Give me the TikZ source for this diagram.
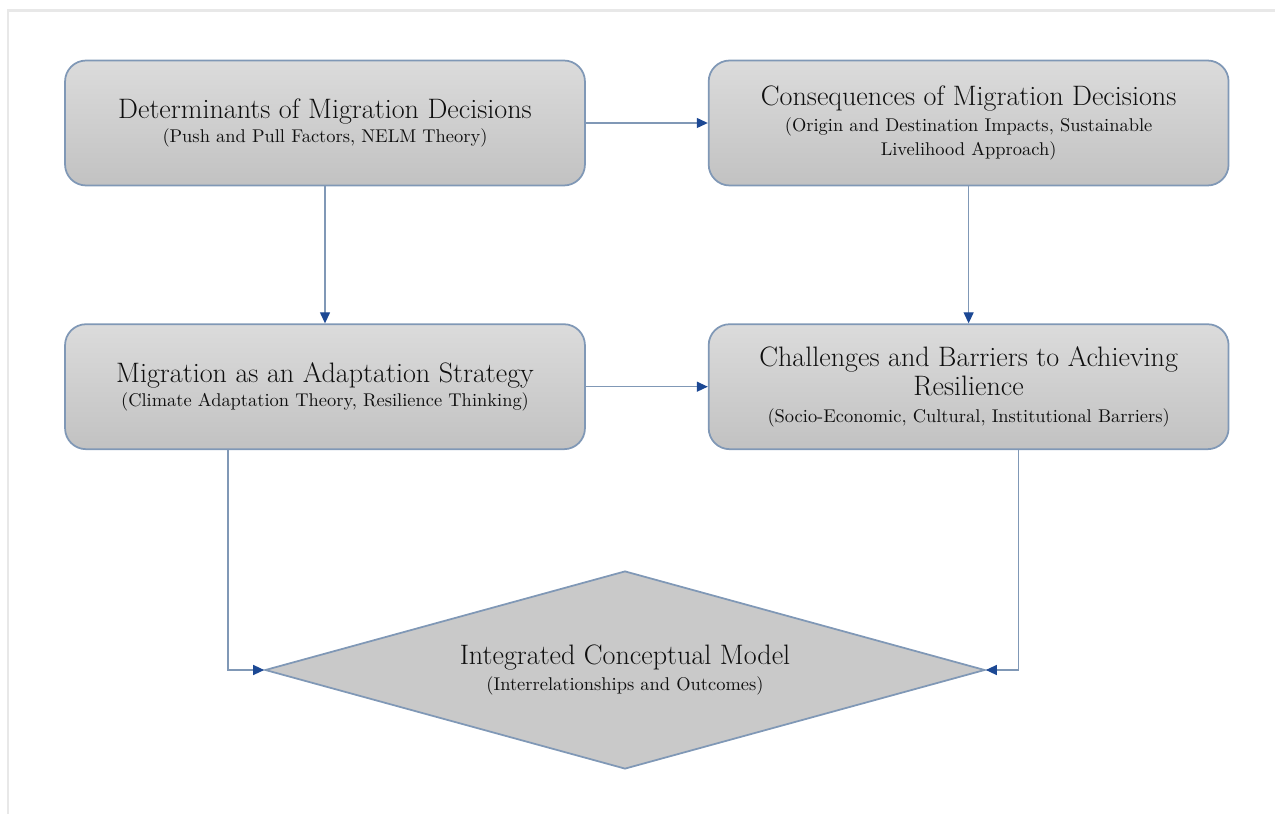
\documentclass[tikz,border=0pt]{standalone}
\usepackage{fontspec}
\usepackage{tikz}
\usetikzlibrary{positioning, shapes.geometric, arrows.meta}
\usepackage{xcolor}
\definecolor{edgeblue}{RGB}{128,152,182}
\definecolor{tipblue}{RGB}{28,72,148}
\definecolor{framegray}{RGB}{232,232,232}
\definecolor{inkgray}{RGB}{15,15,15}

\begin{document}
\begin{tikzpicture}[
    x=0.02cm, y=-0.02cm,
    block/.style={draw=edgeblue, line width=1pt, rounded corners=0.42cm,
                  top color=black!14, bottom color=black!24,
                  minimum width=10.4cm, minimum height=2.5cm,
                  align=center, text=inkgray,
                  font=\fontsize{10.5}{13.5}\selectfont},
    model/.style={diamond, draw=edgeblue, line width=1pt, fill=black!21,
                  minimum width=14.4cm, minimum height=3.96cm, aspect=3.6,
                  inner sep=0pt, align=center, text=inkgray,
                  font=\fontsize{10.5}{13.5}\selectfont},
    arrow/.style={-{Triangle[length=2.2mm, width=2mm, color=tipblue]},
                  draw=edgeblue, line width=0.7pt},
]
\useasboundingbox (0,0) rectangle (1275,814);

% page frame
\draw[framegray, line width=0.06cm] (8,814) -- (8,11) -- (1275,11);

% upper row
\node[block] (det) at (325,123)
    {{\fontsize{16}{17}\selectfont Determinants of Migration Decisions}\\
     (Push and Pull Factors, NELM Theory)};
\node[block, right=2.44cm of det] (cons)
    {{\fontsize{16}{17}\selectfont Consequences of Migration Decisions}\\[1pt]
     (Origin and Destination Impacts, Sustainable\\
     Livelihood Approach)};

% lower row
\node[block, below=2.74cm of det] (mig)
    {{\fontsize{16}{17}\selectfont Migration as an Adaptation Strategy}\\
     (Climate Adaptation Theory, Resilience Thinking)};
\node[block, below=2.74cm of cons] (chal)
    {{\fontsize{16}{17}\selectfont Challenges and Barriers to Achieving}\\[1pt]
     {\fontsize{16}{17}\selectfont Resilience}\\[2pt]
     (Socio-Economic, Cultural, Institutional Barriers)};

% model
\node[model] (dia) at (625,670)
    {{\fontsize{16}{17}\selectfont Integrated Conceptual Model}\\[1pt]
     (Interrelationships and Outcomes)};

% connectors
\draw[arrow] (det.east) -- (cons.west);
\draw[arrow] (det.south) -- (mig.north);
\draw[arrow] (cons.south) -- (chal.north);
\draw[arrow] (mig.east) -- (chal.west);
\draw[arrow] ([xshift=-1.94cm]mig.south) |- (dia.west);
\draw[arrow] ([xshift=1cm]chal.south) |- (dia.east);

\end{tikzpicture}
\end{document}
